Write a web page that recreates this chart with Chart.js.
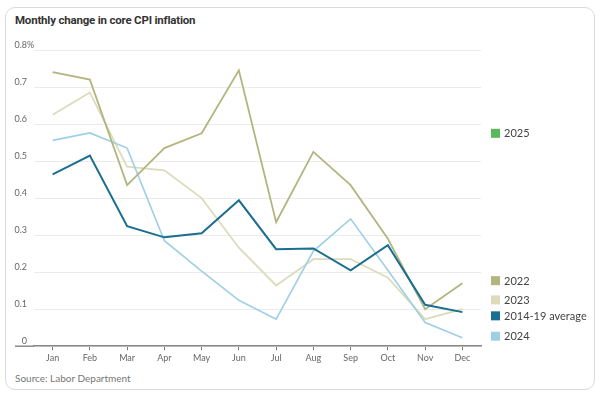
<!DOCTYPE html>
<html>
<head>
<meta charset="utf-8">
<script src="https://cdn.jsdelivr.net/npm/chart.js@4"></script>
<style>
  html,body{margin:0;padding:0;background:#fff;}
  #wrap{position:relative;width:602px;height:394px;overflow:hidden;font-family:Lato,"Open Sans",sans-serif;}
  #card{position:absolute;left:5px;top:7px;width:588px;height:381px;border:1px solid #dadada;border-radius:10px;}
  #title{position:absolute;left:15px;top:13px;font-family:Roboto,sans-serif;font-size:11.5px;font-weight:bold;color:#333;letter-spacing:-0.2px;}
  #source{position:absolute;left:15px;top:372px;font-size:10px;color:#777;}
  canvas{position:absolute;left:0;top:0;}
</style>
</head>
<body>
<div id="wrap">
  <div id="card"></div>
  <div id="title">Monthly change in core CPI inflation</div>
  <div id="source">Source: Labor Department</div>
  <canvas id="c" width="602" height="394"></canvas>
</div>
<script>
const months = ["Jan","Feb","Mar","Apr","May","Jun","Jul","Aug","Sep","Oct","Nov","Dec"];
const yTicks = [0,0.1,0.2,0.3,0.4,0.5,0.6,0.7,0.8];
const y2022 = [0.74,0.72,0.435,0.535,0.575,0.745,0.335,0.525,0.435,0.29,0.10,0.17];
const y2023 = [0.625,0.685,0.485,0.475,0.40,0.266,0.164,0.235,0.235,0.185,0.073,0.10];
const yAvg  = [0.464,0.515,0.324,0.294,0.305,0.394,0.262,0.264,0.205,0.273,0.112,0.092];
const y2024 = [0.556,0.576,0.535,0.285,0.203,0.124,0.073,0.257,0.344,0.205,0.064,0.023];
const y2025 = [];

const seriesNames  = ["2025","2022","2023","2014-19 average","2024"];
const seriesColors = {"2025":"#5cb85c","2022":"#b3b57f","2023":"#dcdcbd","2014-19 average":"#1a6e90","2024":"#9fcfe6"};
// vertical anchor (in axis units) for each end label
const labelAnchorValues = {"2025":0.575,"2022":0.177,"2023":0.125,"2014-19 average":0.082,"2024":0.027};

const endLabels = {
  id:'endLabels',
  afterDraw(chart){
    const ctx = chart.ctx, ys = chart.scales.y, area = chart.chartArea;
    ctx.save();
    ctx.font = '9px Lato, "Open Sans", sans-serif';
    ctx.fillStyle = '#666';
    ctx.textBaseline = 'alphabetic';
    yTicks.forEach((v,i)=>{
      const py = ys.getPixelForValue(v);
      const txt = v===0 ? '0' : v.toFixed(1);
      ctx.textAlign = 'right';
      ctx.fillText(txt, 27, py-2);
      if(i===yTicks.length-1){ ctx.textAlign='left'; ctx.fillText('%', 27, py-2); }
    });
    ctx.strokeStyle = '#888'; ctx.lineWidth = 1.5;
    const by = ys.getPixelForValue(0);
    ctx.beginPath(); ctx.moveTo(15, by); ctx.lineTo(area.left, by); ctx.stroke();
    ctx.font = '11px Lato, "Open Sans", sans-serif';
    ctx.textAlign = 'left'; ctx.textBaseline = 'middle';
    seriesNames.forEach(n=>{
      const py = ys.getPixelForValue(labelAnchorValues[n]);
      ctx.fillStyle = seriesColors[n];
      ctx.fillRect(area.right+10, py-4.5, 9, 9);
      ctx.fillStyle = '#444';
      ctx.fillText(n, area.right+23, py+0.5);
    });
    ctx.restore();
  }
};

new Chart(document.getElementById('c'), {
  type:'line',
  data:{
    labels: months,
    datasets:[
      {label:'2025', data:y2025, borderColor:seriesColors['2025'], borderWidth:2, pointRadius:0, order:5},
      {label:'2023', data:y2023, borderColor:seriesColors['2023'], borderWidth:1.8, pointRadius:0, order:4},
      {label:'2024', data:y2024, borderColor:seriesColors['2024'], borderWidth:1.6, pointRadius:0, order:3},
      {label:'2022', data:y2022, borderColor:seriesColors['2022'], borderWidth:1.8, pointRadius:0, order:2},
      {label:'2014-19 average', data:yAvg, borderColor:seriesColors['2014-19 average'], borderWidth:2, pointRadius:0, order:1}
    ]
  },
  options:{
    responsive:false, animation:false,
    layout:{padding:{left:34,right:121,top:50,bottom:29}},
    plugins:{legend:{display:false},tooltip:{enabled:false}},
    scales:{
      x:{
        offset:true,
        grid:{display:true,drawOnChartArea:false,offset:false,tickLength:4,color:'#777',tickWidth:1},
        border:{display:true,color:'#888',width:1.5},
        ticks:{font:{size:9,family:'Lato, "Open Sans", sans-serif'},color:'#666',padding:2,maxRotation:0,autoSkip:false}
      },
      y:{
        min:0,max:0.8,
        afterBuildTicks(scale){ scale.ticks = yTicks.map(v=>({value:v})); },
        grid:{color:'#ebebeb',lineWidth:1,drawTicks:false},
        border:{display:false},
        ticks:{display:false}
      }
    }
  },
  plugins:[endLabels]
});
</script>
</body>
</html>
